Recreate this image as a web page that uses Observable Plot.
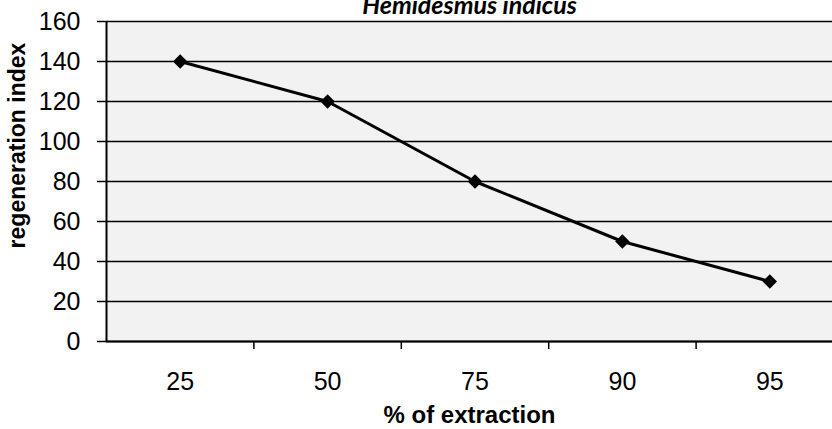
<!DOCTYPE html>
<html>
<head>
<meta charset="utf-8">
<script src="https://cdn.jsdelivr.net/npm/d3@7"></script>
<script src="https://cdn.jsdelivr.net/npm/@observablehq/plot@0.6"></script>
<style>
  html, body { margin: 0; padding: 0; background: #fff; }
  #chart svg { display: block; }
</style>
</head>
<body>
<div id="chart"></div>
<script>
const title = "Hemidesmus indicus";
const xLabel = "% of extraction";
const yLabel = "regeneration index";
const categories = ["25", "50", "75", "90", "95"];
const values = [140, 120, 80, 50, 30];
const yTicks = [0, 20, 40, 60, 80, 100, 120, 140, 160];

const data = categories.map((c, i) => ({i, c, v: values[i]}));
const boundaries = categories.map((c, i) => i + 0.5);

const chart = Plot.plot({
  width: 832,
  height: 429,
  marginLeft: 106,
  marginRight: 0,
  marginTop: 21,
  marginBottom: 88,
  style: {fontFamily: "'Liberation Sans', Arial, sans-serif", background: "#fff", color: "#000"},
  x: {type: "linear", domain: [-0.5, categories.length - 0.5], range: [106, 843]},
  y: {domain: [0, 160], range: [341, 21]},
  marks: [
    Plot.frame({fill: "#f2f2f2", stroke: null}),
    Plot.gridY(yTicks, {stroke: "#000", strokeOpacity: 1, strokeWidth: 1.6}),
    Plot.ruleX([-0.5], {stroke: "#000", strokeWidth: 2}),
    Plot.ruleY([0], {stroke: "#000", strokeWidth: 2}),
    Plot.axisY({ticks: yTicks, tickSize: 9, tickPadding: 17, fontSize: 25, label: null, stroke: "#000", strokeWidth: 1.5}),
    Plot.axisX({ticks: categories.map((c, i) => i), tickFormat: (d) => categories[d], tickSize: 0, tickPadding: 31, fontSize: 25, label: null}),
    Plot.axisX({ticks: boundaries, tickFormat: () => "", tickSize: 8, label: null, stroke: "#000", strokeWidth: 1.5}),
    Plot.line(data, {x: "i", y: "v", stroke: "#000", strokeWidth: 3}),
    Plot.dot(data, {x: "i", y: "v", symbol: "diamond2", r: 6.5, fill: "#000", stroke: null}),
    Plot.text([title], {frameAnchor: "top", textAnchor: "middle", dy: -8, lineAnchor: "bottom", fontFamily: "Lato, 'Open Sans', sans-serif", fontStyle: "italic", fontWeight: "bold", fontSize: 25}),
    Plot.text([xLabel], {frameAnchor: "bottom", textAnchor: "middle", dy: 81, lineAnchor: "bottom", fontWeight: "bold", fontSize: 24}),
    Plot.text([yLabel], {frameAnchor: "left", textAnchor: "middle", dx: -89, dy: -36, rotate: -90, lineAnchor: "middle", fontWeight: "bold", fontSize: 23})
  ]
});
document.getElementById("chart").appendChild(chart);
</script>
</body>
</html>
